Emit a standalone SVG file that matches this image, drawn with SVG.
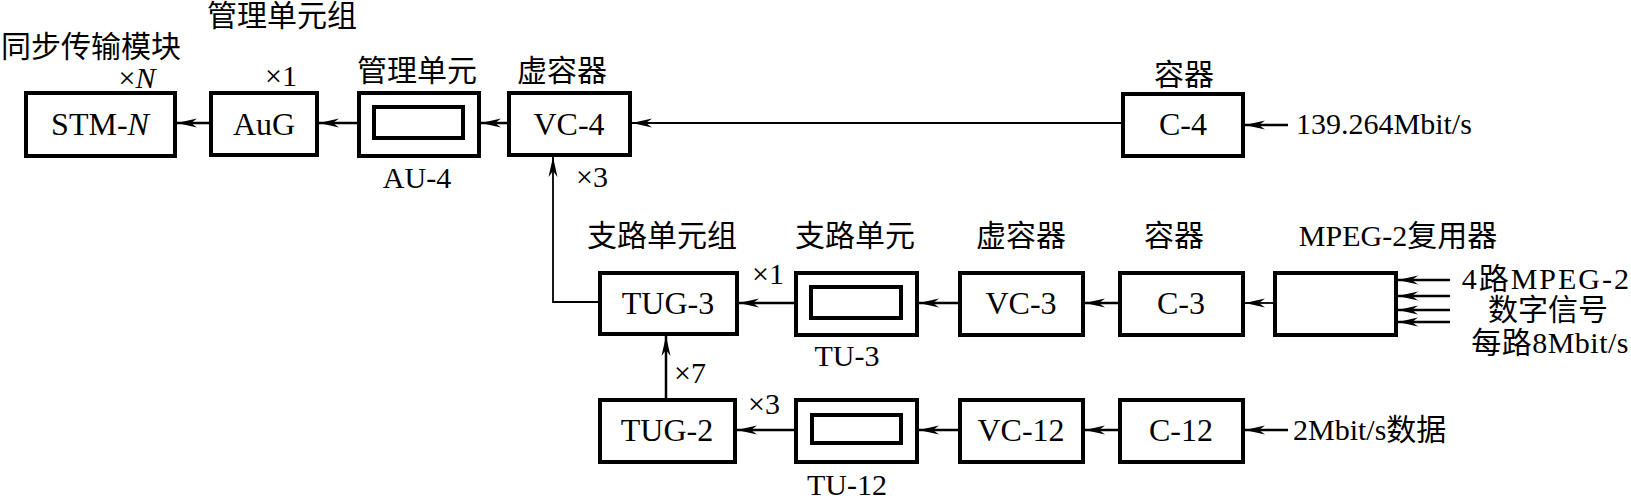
<svg xmlns="http://www.w3.org/2000/svg" width="1631" height="499" viewBox="0 0 1631 499">
<style>
.box{fill:#fff;stroke:#000;stroke-width:4}
.inner{fill:none;stroke:#000;stroke-width:4}
.ln{fill:none;stroke:#000;stroke-width:2.5}
.thin{fill:none;stroke:#000;stroke-width:1.8}
text{font-family:"Liberation Serif","Noto Sans CJK SC",serif;font-size:30px;fill:#000}
.bl{font-size:32px}
.c{text-anchor:middle}
.r{text-anchor:end}
</style>
<defs>
<marker id="ah" viewBox="0 -5 20 10" markerWidth="20" markerHeight="10" refX="20" refY="0" orient="auto" markerUnits="userSpaceOnUse">
<path d="M0,-4.5 L20,0 L0,4.5 L6,0 z" fill="#000"/>
</marker>
</defs>
<rect width="1631" height="499" fill="#fff"/>

<g id="labels">
<text x="282" y="26" class="c">管理单元组</text>
<text x="91" y="57" class="c">同步传输模块</text>
<text x="137" y="88" class="c">×<tspan font-style="italic">N</tspan></text>
<text x="281" y="86" class="c">×1</text>
<text x="417" y="81" class="c">管理单元</text>
<text x="562" y="81" class="c">虚容器</text>
<text x="1184" y="85" class="c">容器</text>
<text x="417" y="188" class="c">AU-4</text>
<text x="592" y="187" class="c">×3</text>
<text x="662" y="246" class="c">支路单元组</text>
<text x="855" y="246" class="c">支路单元</text>
<text x="1021" y="246" class="c">虚容器</text>
<text x="1174" y="246" class="c">容器</text>
<text x="1398" y="246" class="c">MPEG-2复用器</text>
<text x="768" y="284" class="c">×1</text>
<text x="847" y="366" class="c">TU-3</text>
<text x="690" y="383" class="c">×7</text>
<text x="764" y="414" class="c">×3</text>
<text x="847" y="495" class="c">TU-12</text>
<text x="1296" y="134">139.264Mbit/s</text>
<text x="1631" y="289" class="r" letter-spacing="2">4路MPEG-2</text>
<text x="1548" y="320" class="c">数字信号</text>
<text x="1629" y="353" class="r" letter-spacing="0.5">每路8Mbit/s</text>
<text x="1293" y="440">2Mbit/s数据</text>
</g>

<g id="stm-n"><rect class="box" x="26" y="93" width="149" height="63"/><text x="100" y="135" class="c bl">STM-<tspan font-style="italic">N</tspan></text></g>
<g id="aug"><rect class="box" x="211" y="93" width="106" height="62"/><text x="264" y="135" class="c bl">AuG</text></g>
<g id="au-4"><rect class="box" x="359" y="93" width="120" height="63"/><rect class="inner" x="374" y="107" width="89" height="31"/></g>
<g id="vc-4"><rect class="box" x="509" y="93" width="121" height="62"/><text x="569" y="135" class="c bl">VC-4</text></g>
<g id="c-4"><rect class="box" x="1123" y="94" width="120" height="62"/><text x="1183" y="135" class="c bl">C-4</text></g>

<g id="tug-3"><rect class="box" x="600" y="273" width="137" height="61"/><text x="668" y="314" class="c bl">TUG-3</text></g>
<g id="tu-3"><rect class="box" x="796" y="273" width="121" height="62"/><rect class="inner" x="811" y="287" width="90" height="31"/></g>
<g id="vc-3"><rect class="box" x="960" y="273" width="123" height="62"/><text x="1021" y="314" class="c bl">VC-3</text></g>
<g id="c-3"><rect class="box" x="1120" y="273" width="123" height="62"/><text x="1181" y="314" class="c bl">C-3</text></g>
<g id="mpeg"><rect class="box" x="1275" y="273" width="121" height="62"/></g>

<g id="tug-2"><rect class="box" x="600" y="400" width="135" height="62"/><text x="667" y="441" class="c bl">TUG-2</text></g>
<g id="tu-12"><rect class="box" x="796" y="400" width="121" height="62"/><rect class="inner" x="812" y="415" width="89" height="28"/></g>
<g id="vc-12"><rect class="box" x="960" y="400" width="123" height="62"/><text x="1021" y="441" class="c bl">VC-12</text></g>
<g id="c-12"><rect class="box" x="1120" y="400" width="123" height="62"/><text x="1181" y="441" class="c bl">C-12</text></g>

<g id="connectors">
<line class="ln" x1="211" y1="123" x2="177" y2="123" marker-end="url(#ah)"/>
<line class="ln" x1="359" y1="123" x2="319" y2="123" marker-end="url(#ah)"/>
<line class="ln" x1="509" y1="123" x2="481" y2="123" marker-end="url(#ah)"/>
<line class="thin" x1="1123" y1="123" x2="632" y2="123" marker-end="url(#ah)"/>
<line class="ln" x1="1288" y1="125" x2="1245" y2="125" marker-end="url(#ah)"/>
<polyline class="thin" points="600,302 553,302 553,157" marker-end="url(#ah)"/>
<line class="ln" x1="796" y1="303" x2="739" y2="303" marker-end="url(#ah)"/>
<line class="ln" x1="960" y1="303" x2="919" y2="303" marker-end="url(#ah)"/>
<line class="ln" x1="1120" y1="303" x2="1085" y2="303" marker-end="url(#ah)"/>
<line class="thin" x1="1275" y1="303" x2="1245" y2="303" marker-end="url(#ah)"/>
<line class="ln" x1="1450" y1="280" x2="1398" y2="280" marker-end="url(#ah)"/>
<line class="ln" x1="1450" y1="296" x2="1398" y2="296" marker-end="url(#ah)"/>
<line class="ln" x1="1450" y1="310" x2="1398" y2="310" marker-end="url(#ah)"/>
<line class="ln" x1="1450" y1="322" x2="1398" y2="322" marker-end="url(#ah)"/>
<line class="ln" x1="666" y1="400" x2="666" y2="336" marker-end="url(#ah)"/>
<line class="ln" x1="796" y1="430" x2="737" y2="430" marker-end="url(#ah)"/>
<line class="ln" x1="960" y1="430" x2="919" y2="430" marker-end="url(#ah)"/>
<line class="ln" x1="1120" y1="430" x2="1085" y2="430" marker-end="url(#ah)"/>
<line class="ln" x1="1288" y1="430" x2="1245" y2="430" marker-end="url(#ah)"/>
</g>
</svg>
